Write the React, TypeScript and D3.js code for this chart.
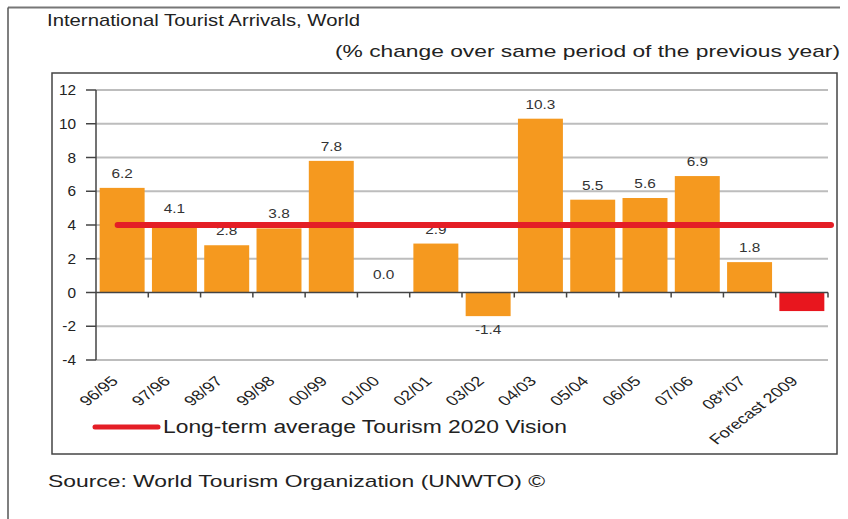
import * as React from "react";
import * as d3 from "d3";

const CATEGORIES = [
  "96/95", "97/96", "98/97", "99/98", "00/99", "01/00", "02/01",
  "03/02", "04/03", "05/04", "06/05", "07/06", "08*/07", "Forecast 2009",
];
const VALUES = [6.2, 4.1, 2.8, 3.8, 7.8, 0.0, 2.9, -1.4, 10.3, 5.5, 5.6, 6.9, 1.8, -1.1];
const VALUE_LABELS = ["6.2", "4.1", "2.8", "3.8", "7.8", "0.0", "2.9", "-1.4", "10.3", "5.5", "5.6", "6.9", "1.8", ""];
const Y_TICKS = [-4, -2, 0, 2, 4, 6, 8, 10, 12];
const LONG_TERM_AVERAGE = 4;

const TITLE = "International Tourist Arrivals, World";
const SUBTITLE = "(% change over same period of the previous year)";
const LEGEND = "Long-term average Tourism 2020 Vision";
const SOURCE = "Source: World Tourism Organization (UNWTO) \u00a9";

const FONT = "'Liberation Sans', Arial, sans-serif";
const ORANGE = "#F5991F";
const RED = "#E41E26";
const STRETCH = 1.28;

export default function App() {
  const [width, height] = [848, 519];
  const plot = { left: 96, right: 828, top: 90, bottom: 360 };

  const x = d3
    .scaleBand<string>()
    .domain(CATEGORIES)
    .range([plot.left, plot.right])
    .paddingInner(0.14)
    .paddingOuter(0.07);
  const y = d3.scaleLinear().domain([-4, 12]).range([plot.bottom, plot.top]);
  const half = (x.step() * x.paddingInner()) / 2;
  const boundaries = CATEGORIES.map((c) => (x(c) ?? 0) - half).concat(plot.right);

  return (
    <svg
      width={width}
      height={height}
      style={{ position: "absolute", left: 0, top: 0, background: "#fff" }}
      fontFamily={FONT}
    >
      {/* outer frame */}
      <line x1={8} y1={7.5} x2={840} y2={7.5} stroke="#777" strokeWidth={2} />
      <line x1={8} y1={7.5} x2={8} y2={519} stroke="#555" strokeWidth={1.5} />

      <text x={47} y={26} fontSize={17} fill="#222" textLength={313} lengthAdjust="spacingAndGlyphs">
        {TITLE}
      </text>
      <text x={335} y={57} fontSize={17} fill="#222" textLength={505} lengthAdjust="spacingAndGlyphs">
        {SUBTITLE}
      </text>

      {/* chart box */}
      <rect x={52} y={73} width={785} height={381} fill="none" stroke="#444" strokeWidth={1.5} />

      {/* grid */}
      {Y_TICKS.filter((t) => t !== 0).map((t) => (
        <line key={t} x1={plot.left} x2={plot.right} y1={y(t)} y2={y(t)} stroke="#bdbdbd" strokeWidth={2} />
      ))}

      {/* bars */}
      {CATEGORIES.map((c, i) => (
        <rect
          key={c}
          x={x(c)}
          width={x.bandwidth()}
          y={y(Math.max(0, VALUES[i]))}
          height={Math.abs(y(VALUES[i]) - y(0))}
          fill={i === CATEGORIES.length - 1 ? "#E8161E" : ORANGE}
        />
      ))}

      {/* y axis */}
      <line x1={plot.left} x2={plot.left} y1={plot.top} y2={plot.bottom} stroke="#444" strokeWidth={1.5} />
      {Y_TICKS.map((t) => (
        <g key={t}>
          <line x1={plot.left - 10} x2={plot.left} y1={y(t)} y2={y(t)} stroke="#444" strokeWidth={1.5} />
          <text
            transform={`translate(76,${y(t) + 5}) scale(1.1,1)`}
            textAnchor="end"
            fontSize={14}
            fill="#222"
          >
            {t}
          </text>
        </g>
      ))}

      {/* zero axis */}
      <line x1={plot.left} x2={plot.right} y1={y(0)} y2={y(0)} stroke="#444" strokeWidth={1.5} />
      {boundaries.slice(1).map((b, i) => (
        <line key={i} x1={b} x2={b} y1={y(0)} y2={y(0) + 5} stroke="#444" strokeWidth={1.5} />
      ))}

      {/* value labels */}
      {CATEGORIES.map((c, i) => {
        const v = VALUES[i];
        const cx = (x(c) ?? 0) + x.bandwidth() / 2;
        const ty = v >= 0 ? y(v) - (v === 0 ? 14 : 10) : y(v) + 18;
        return (
          <text
            key={c}
            transform={`translate(${cx},${ty}) scale(${STRETCH},1)`}
            textAnchor="middle"
            fontSize={12}
            fill="#333"
          >
            {VALUE_LABELS[i]}
          </text>
        );
      })}

      {/* long-term average */}
      <line
        x1={(x(CATEGORIES[0]) ?? 0) + x.bandwidth() * 0.4}
        x2={plot.right + 3}
        y1={y(LONG_TERM_AVERAGE)}
        y2={y(LONG_TERM_AVERAGE)}
        stroke={RED}
        strokeWidth={6}
        strokeLinecap="round"
      />

      {/* category labels */}
      {CATEGORIES.map((c) => {
        const cx = (x(c) ?? 0) + x.bandwidth() / 2;
        return (
          <text
            key={c}
            transform={`translate(${cx - 3},${plot.bottom + 22}) scale(1.3,1) rotate(-45)`}
            textAnchor="end"
            fontSize={14}
            fill="#222"
          >
            {c}
          </text>
        );
      })}

      {/* legend */}
      <line x1={95} x2={158} y1={427} y2={427} stroke={RED} strokeWidth={5} strokeLinecap="round" />
      <text x={163} y={433} fontSize={18} fill="#222" textLength={404} lengthAdjust="spacingAndGlyphs">
        {LEGEND}
      </text>

      <text x={48} y={487} fontSize={17} fill="#222" textLength={497} lengthAdjust="spacingAndGlyphs">
        {SOURCE}
      </text>
    </svg>
  );
}
